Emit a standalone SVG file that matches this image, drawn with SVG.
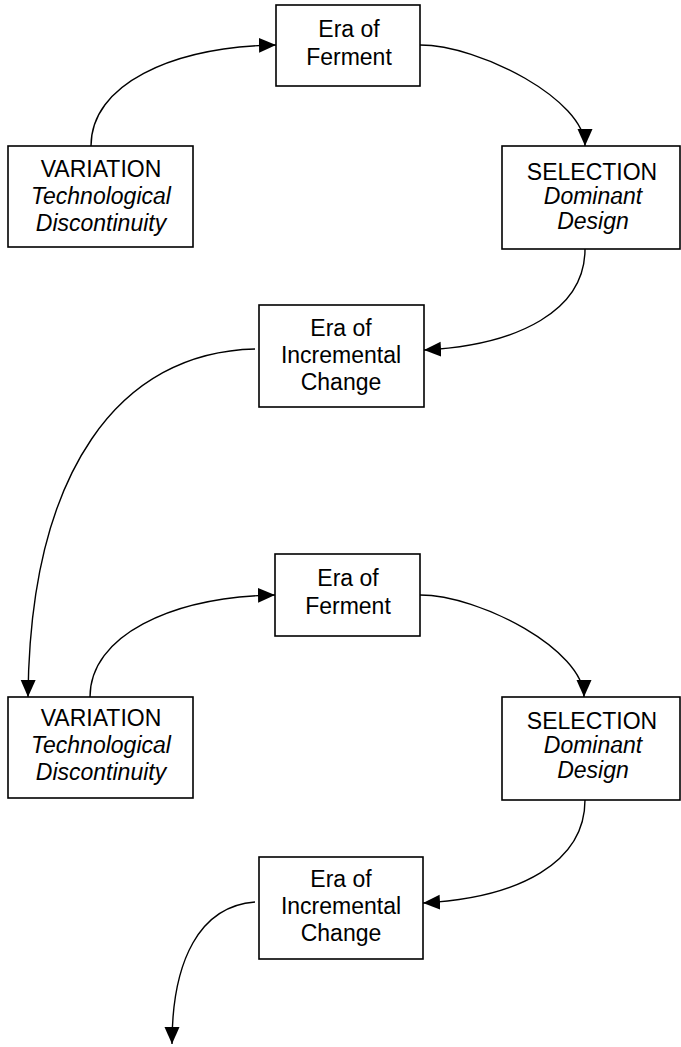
<svg xmlns="http://www.w3.org/2000/svg" width="681" height="1047" viewBox="0 0 681 1047">
<defs>
<style>
.box{fill:#fff;stroke:#000;stroke-width:1.6}
.t{font-family:"Liberation Sans",Arial,sans-serif;font-size:23px;fill:#000;text-anchor:middle}
.i{font-style:italic}
.c{fill:none;stroke:#000;stroke-width:1.4}
</style>
<marker id="ah" markerUnits="userSpaceOnUse" markerWidth="18" markerHeight="16" refX="17" refY="7.5" orient="auto">
<path d="M0,0 L17,7.5 L0,15 z" fill="#000"/>
</marker>
</defs>
<rect width="681" height="1047" fill="#fff"/>
<g id="connectors">
<path class="c" marker-end="url(#ah)" d="M91,146 C91,85 170,47 276,45"/>
<path class="c" marker-end="url(#ah)" d="M420,45 C480,45 585,100 585,146"/>
<path class="c" marker-end="url(#ah)" d="M585,249 C585,310 520,345 424,350"/>
<path class="c" marker-end="url(#ah)" d="M255,349 C120,352 30,470 28,697"/>
<path class="c" marker-end="url(#ah)" d="M90,697 C90,636 170,597 275,595"/>
<path class="c" marker-end="url(#ah)" d="M420,595 C480,595 584,650 584,697"/>
<path class="c" marker-end="url(#ah)" d="M585,800 C585,862 520,898 423,903"/>
<path class="c" marker-end="url(#ah)" d="M255,902 C200,906 172,960 172,1044"/>
</g>
<g id="variation1">
<rect class="box" x="8" y="146" width="185" height="101"/>
<text class="t" x="101" y="177">VARIATION<tspan class="i" x="101" y="204">Technological</tspan><tspan class="i" x="101" y="231">Discontinuity</tspan></text>
</g>
<g id="ferment1">
<rect class="box" x="276" y="5" width="144" height="81"/>
<text class="t" x="349" y="37">Era of<tspan x="349" y="65">Ferment</tspan></text>
</g>
<g id="selection1">
<rect class="box" x="502" y="146" width="178" height="103"/>
<text class="t" x="592" y="180">SELECTION<tspan class="i" x="593" y="204">Dominant</tspan><tspan class="i" x="593" y="229">Design</tspan></text>
</g>
<g id="incremental1">
<rect class="box" x="259" y="305" width="165" height="102"/>
<text class="t" x="341" y="336">Era of<tspan x="341" y="363">Incremental</tspan><tspan x="341" y="390">Change</tspan></text>
</g>
<g id="variation2">
<rect class="box" x="8" y="697" width="185" height="101"/>
<text class="t" x="101" y="726">VARIATION<tspan class="i" x="101" y="753">Technological</tspan><tspan class="i" x="101" y="780">Discontinuity</tspan></text>
</g>
<g id="ferment2">
<rect class="box" x="275" y="554" width="145" height="82"/>
<text class="t" x="348" y="586">Era of<tspan x="348" y="614">Ferment</tspan></text>
</g>
<g id="selection2">
<rect class="box" x="502" y="697" width="178" height="103"/>
<text class="t" x="592" y="729">SELECTION<tspan class="i" x="593" y="753">Dominant</tspan><tspan class="i" x="593" y="778">Design</tspan></text>
</g>
<g id="incremental2">
<rect class="box" x="259" y="857" width="164" height="102"/>
<text class="t" x="341" y="887">Era of<tspan x="341" y="914">Incremental</tspan><tspan x="341" y="941">Change</tspan></text>
</g>
</svg>
